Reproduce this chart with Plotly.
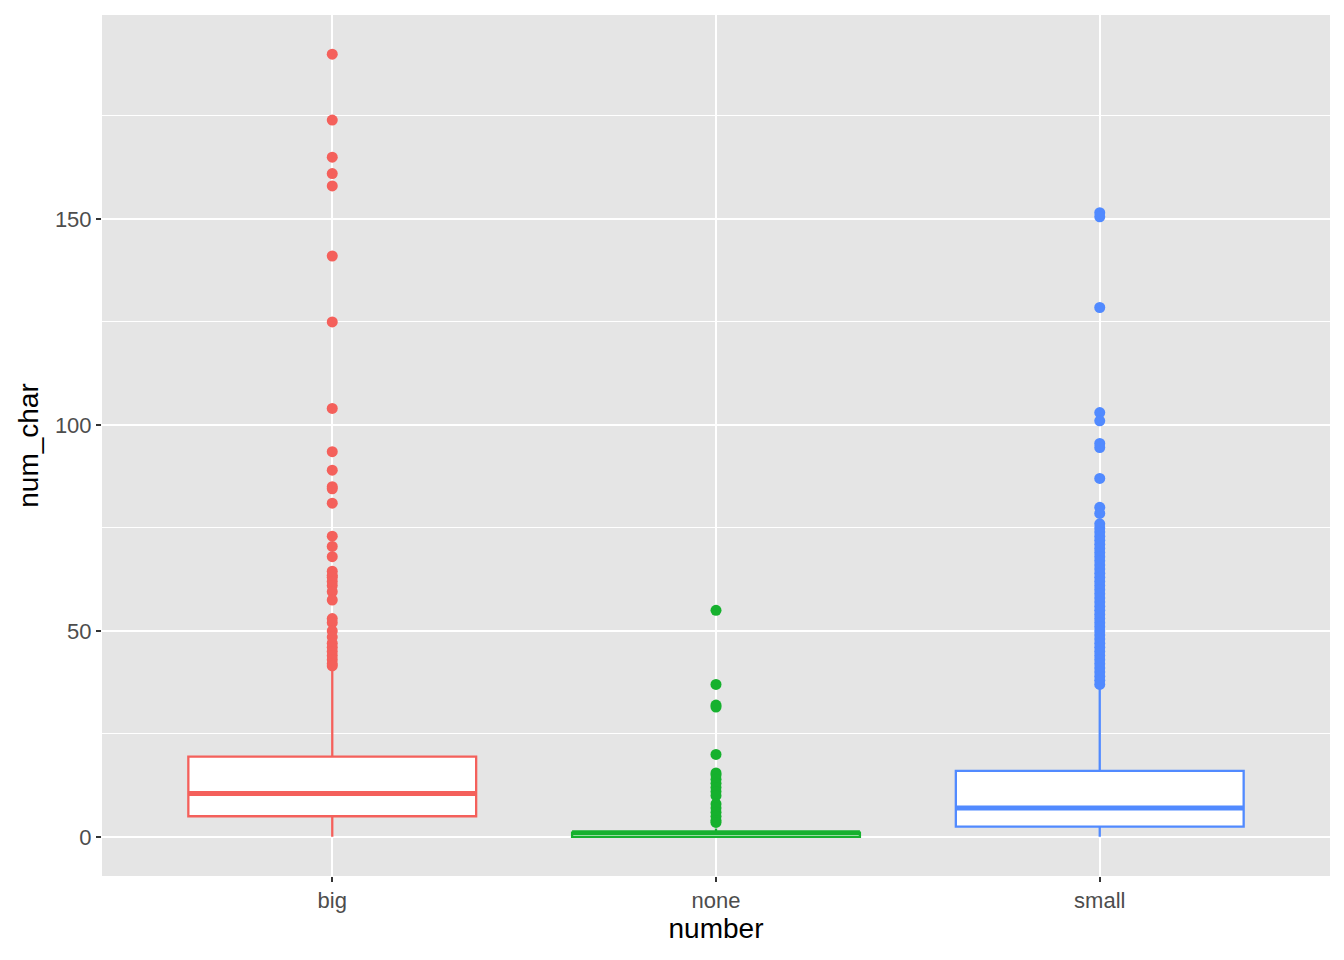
import plotly.graph_objects as go

categories = ["big", "none", "small"]
colors = ["#F4605B", "#16B12E", "#518AFF"]

q1 = [5.0, 0.0, 2.5]
median = [10.5, 1.0, 7.0]
q3 = [19.5, 1.0, 16.0]
lowerfence = [0.0, 0.0, 0.0]
upperfence = [41.0, 2.0, 36.0]

big_outliers = [190, 174, 165, 161, 158, 141, 125, 104, 93.5, 89, 85, 84.5, 81,
                73, 70.5, 68, 64.5, 63.5, 63, 62, 61, 59.5, 57.5, 53, 52, 50,
                48.5, 47, 46, 45, 44, 43, 42, 41.5]
none_outliers = [55, 37, 32, 31.5, 20, 15.5, 15, 14, 13, 12, 11, 10, 8, 7, 6, 5, 4, 3.5]
small_outliers = [151.5, 150.5, 128.5, 103, 101, 95.5, 94.5, 87, 80, 78.5, 76, 75,
                  74, 73, 72, 71, 70, 69, 68, 67, 66, 65, 64, 63, 62, 61, 60, 59,
                  58, 57, 56, 55, 54, 53, 52, 51, 50, 49, 48, 47, 46, 45, 44, 43,
                  42, 41, 40, 39, 38, 37]
outliers = [big_outliers, none_outliers, small_outliers]

box_width = 0.75

fig = go.Figure()
for i, cat in enumerate(categories):
    fig.add_trace(go.Box(
        x=[i], q1=[q1[i]], median=[median[i]], q3=[q3[i]],
        lowerfence=[lowerfence[i]], upperfence=[upperfence[i]],
        width=box_width, whiskerwidth=0,
        fillcolor="white", line=dict(color=colors[i], width=2.3),
        boxpoints=False, showlegend=False, name=cat,
    ))
    # thicker median line like ggplot2
    fig.add_trace(go.Scatter(
        x=[i - box_width / 2, i + box_width / 2], y=[median[i], median[i]],
        mode="lines", line=dict(color=colors[i], width=5),
        showlegend=False, hoverinfo="skip",
    ))
    fig.add_trace(go.Scatter(
        x=[i] * len(outliers[i]), y=outliers[i], mode="markers",
        marker=dict(color=colors[i], size=11, line=dict(width=0)),
        showlegend=False,
    ))

fig.update_layout(
    width=1336, height=952,
    margin=dict(l=94, r=14, t=7, b=84),
    paper_bgcolor="white", plot_bgcolor="#E5E5E5",
    font=dict(family="Liberation Sans, Arial, sans-serif"),
)
fig.update_xaxes(
    range=[-0.6, 2.6], tickvals=[0, 1, 2], ticktext=categories,
    showgrid=True, gridcolor="white", gridwidth=2, zeroline=False,
    ticks="outside", ticklen=5, tickcolor="#333333", tickwidth=2,
    tickfont=dict(size=22, color="#4D4D4D"),
    title=dict(text="number", font=dict(size=28, color="black"), standoff=4),
    showline=False,
)
fig.update_yaxes(
    range=[-9.5, 199.5], tickvals=[0, 50, 100, 150],
    showgrid=True, gridcolor="white", gridwidth=2, zeroline=False,
    minor=dict(tickvals=[25, 75, 125, 175], showgrid=True, gridcolor="white", gridwidth=1),
    ticks="outside", ticklen=5, tickcolor="#333333", tickwidth=2,
    tickfont=dict(size=22, color="#4D4D4D"),
    title=dict(text="num_char", font=dict(size=28, color="black"), standoff=8),
    showline=False,
)

fig.write_html("out.html")
